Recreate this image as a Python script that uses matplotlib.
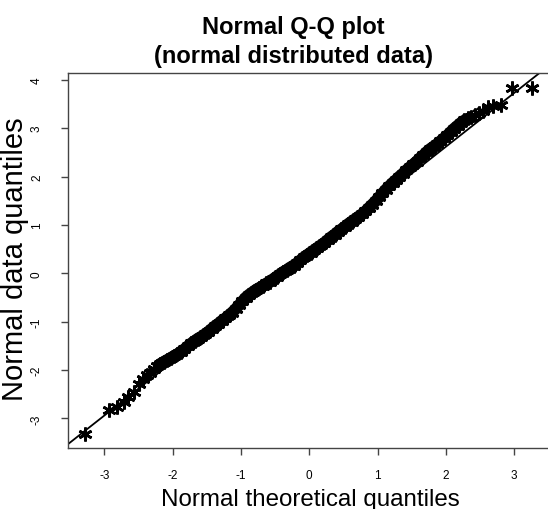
import matplotlib
matplotlib.use("Agg")
import matplotlib.pyplot as plt

plt.rcParams['font.family'] = ['Liberation Sans', 'DejaVu Sans']

# theoretical quantiles (x) and sample quantiles (y)
theo = [-3.28, -2.94, -2.82, -2.72, -2.65, -2.57, -2.50,
        -2.43, -2.38, -2.33, -2.28, -2.23, -2.18, -2.13, -2.08, -2.03, -1.98,
        -1.93, -1.88, -1.83, -1.78, -1.73, -1.68, -1.63, -1.58, -1.53, -1.48,
        -1.43, -1.38, -1.33, -1.28, -1.23, -1.18, -1.13, -1.08, -1.03, -0.98,
        -0.93, -0.88, -0.83, -0.78, -0.73, -0.68, -0.63, -0.58, -0.53, -0.48,
        -0.43, -0.38, -0.33, -0.28, -0.23, -0.18, -0.13, -0.08, -0.03, 0.02,
        0.07, 0.12, 0.17, 0.22, 0.27, 0.32, 0.37, 0.42, 0.47, 0.52,
        0.57, 0.62, 0.67, 0.72, 0.77, 0.82, 0.87, 0.92, 0.97, 1.02,
        1.07, 1.12, 1.17, 1.22, 1.27, 1.32, 1.37, 1.42, 1.47, 1.52,
        1.57, 1.62, 1.67, 1.72, 1.77, 1.82, 1.87, 1.92, 1.97, 2.02,
        2.07, 2.12, 2.17, 2.22, 2.27, 2.32, 2.37, 2.43,
        2.48, 2.54, 2.61, 2.69, 2.80, 2.97, 3.26]
samp = [-3.32, -2.82, -2.76, -2.65, -2.56, -2.46, -2.29,
        -2.18, -2.11, -2.05, -1.98, -1.91, -1.87, -1.83, -1.79, -1.75, -1.71,
        -1.67, -1.62, -1.57, -1.51, -1.45, -1.40, -1.35, -1.31, -1.26, -1.21,
        -1.15, -1.09, -1.04, -0.98, -0.93, -0.87, -0.81, -0.74, -0.66, -0.58,
        -0.50, -0.44, -0.39, -0.34, -0.30, -0.26, -0.21, -0.17, -0.12, -0.07,
        -0.02, 0.03, 0.07, 0.12, 0.16, 0.21, 0.27, 0.33, 0.38, 0.43,
        0.48, 0.53, 0.58, 0.63, 0.69, 0.75, 0.80, 0.86, 0.91, 0.96,
        1.02, 1.07, 1.12, 1.17, 1.22, 1.28, 1.35, 1.42, 1.49, 1.57,
        1.65, 1.73, 1.80, 1.87, 1.93, 2.00, 2.06, 2.13, 2.19, 2.25,
        2.31, 2.38, 2.44, 2.51, 2.57, 2.62, 2.67, 2.73, 2.79, 2.85,
        2.92, 2.99, 3.05, 3.11, 3.16, 3.20, 3.24, 3.27,
        3.31, 3.36, 3.43, 3.46, 3.47, 3.84, 3.84]

# qq reference line
line_icpt = 0.395
line_slope = 1.111

xticks = [-3, -2, -1, 0, 1, 2, 3]
yticks = [-3, -2, -1, 0, 1, 2, 3, 4]

fig = plt.figure(figsize=(5.48, 5.10), dpi=100)
ax = fig.add_axes([68/548, 61/510, 482.4/548, 375/510])

# the dense middle, where the stars merge into one band
dense = [i for i, t in enumerate(theo) if -2.2 <= t <= 2.3]
ax.plot([theo[i] for i in dense], [samp[i] for i in dense], color='black',
        linewidth=8.5, solid_capstyle='round', solid_joinstyle='round')
ax.plot(theo, samp, linestyle='none', marker=(6, 2, 0), markersize=10,
        markeredgewidth=1.9, color='black')
ax.axline((0, line_icpt), slope=line_slope, color='black', linewidth=1.3)

ax.set_xlim(-3.533, 3.53)
ax.set_ylim(-3.61, 4.14)
ax.set_xticks(xticks)
ax.set_yticks(yticks)
ax.set_xticklabels([str(t) for t in xticks])
ax.set_yticklabels([str(t) for t in yticks], rotation=90, va='center')
ax.tick_params(axis='x', length=5, width=1, labelsize=8.5, pad=10, color='#444444')
ax.tick_params(axis='y', length=5, width=1, labelsize=8.5, pad=13, color='#444444')
for s in ax.spines.values():
    s.set_color('#444444')
    s.set_linewidth(1)

fig.text(293/548, 1 - 34/510, "Normal Q-Q plot", ha='center', va='baseline',
         fontsize=17, fontweight='bold')
fig.text(293/548, 1 - 63/510, "(normal distributed data)", ha='center', va='baseline',
         fontsize=17, fontweight='bold')
fig.text(310/548, 1 - 506.5/510, "Normal theoretical quantiles", ha='center',
         va='baseline', fontsize=17.4)
fig.text(15/548, 1 - 259/510, "Normal data quantiles", ha='center', va='center',
         rotation=90, fontsize=21)

fig.savefig("out.png", dpi=100)
